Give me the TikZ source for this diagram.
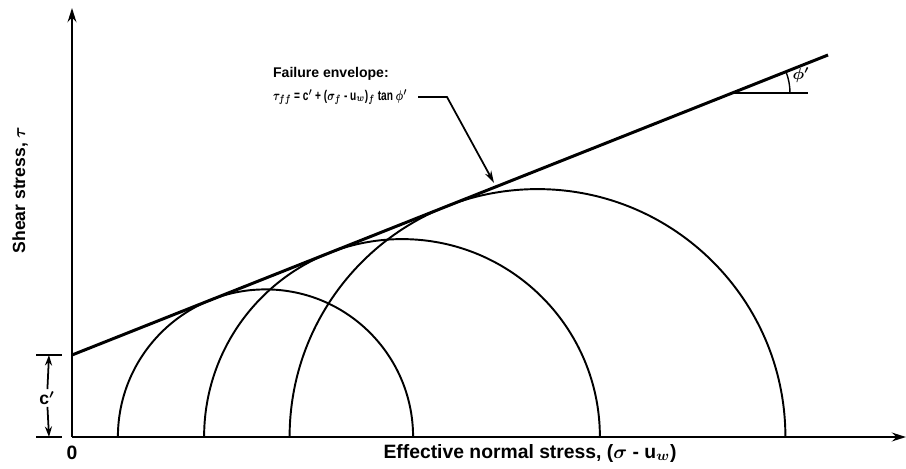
\documentclass[tikz,border=0pt]{standalone}
\usepackage{fontspec}
\usepackage{graphicx}
\setmainfont{Liberation Sans}
\usetikzlibrary{arrows.meta}
\tikzset{
  axis/.style={line width=1.3pt, -{Stealth[length=8pt,width=5pt]}},
  envelope/.style={line width=1.7pt},
  mohr/.style={line width=1.1pt},
  lbl/.style={font=\bfseries\boldmath, inner sep=1pt},
  small/.style={lbl, font=\fontsize{8}{10}\selectfont\bfseries\boldmath},
  big/.style={lbl, font=\fontsize{11}{13}\selectfont\bfseries\boldmath}
}
\begin{document}
\begin{tikzpicture}[x=0.02cm,y=0.02cm]
        \useasboundingbox (0,0) rectangle (906,468);
        % Draw axes
        \coordinate (O) at (72,31);
        \coordinate (ytop) at (72,460);
        \coordinate (xend) at (906,31);
        \draw[axis] (O) -- (ytop); % Shear stress axis
        \draw[axis] (O) -- (xend); % Normal stress axis

        % Axis labels
        \node[big] (zero) at (72,15) {0};
        \node[big] (xlabel) at (530,15) {Effective normal stress, ($\sigma$ - u$_w$)};
        \node[lbl, font=\fontsize{10}{12}\selectfont\bfseries\boldmath, rotate=90] (ylabel) at (20,278) {Shear stress, $\tau$};

        % Draw Mohr circles
        \draw[mohr] (117.9,31) arc (180:0:147.6); % First circle
        \draw[mohr] (204.1,31) arc (180:0:197.9); % Second circle
        \draw[mohr] (289.6,31) arc (180:0:247.9); % Third circle

        % Draw failure envelope
        \coordinate (cpt) at (72,113);
        \coordinate (eend) at (828,413);
        \draw[envelope] (cpt) -- (eend); % Envelope line

        % Angle phi'
        \coordinate (apex) at (732,375);
        \coordinate (hend) at (808,375);
        \draw[line width=0.9pt] (apex) -- (hend);
        \draw[line width=0.8pt] ([shift={(0:58)}]apex) arc (0:21.6:58);
        \node[small, font=\fontsize{9}{11}\selectfont\bfseries\boldmath] (phi) at (801,393) {$\phi'$};

        % Cohesion intercept c'
        \coordinate (ttop) at (49,113);
        \coordinate (tbot) at (49,31);
        \draw[line width=1pt] (36,113) -- (62,113); % Top tick
        \draw[line width=1pt] (36,31) -- (62,31); % Bottom tick
        \node[lbl, font=\fontsize{10}{12}\selectfont\bfseries\boldmath] (cl) at (47,70) {c$'$};
        \draw[line width=1pt, -{Stealth[length=6pt,width=4pt]}] (cl) -- (ttop);
        \draw[line width=1pt, -{Stealth[length=6pt,width=4pt]}] (cl) -- (tbot);

        % Add text for the envelope
        \node[small, anchor=west] (title) at (271,394) {Failure envelope:};
        \node[small, anchor=west] (eq) at (271,371) {\scalebox{0.72}[1]{$\tau_{ff}$ = c$'$ + ($\sigma_f$ - u$_w$)$_f$ tan $\phi'$}};

        % Draw pointer to envelope
        \coordinate (pstart) at (418,371);
        \coordinate (pbend) at (447,371);
        \coordinate (ptip) at (494,285);
        \draw[line width=1pt, -{Stealth[length=7pt,width=4pt]}] (pstart) -- (pbend) -- (ptip);
      \end{tikzpicture}
\end{document}
